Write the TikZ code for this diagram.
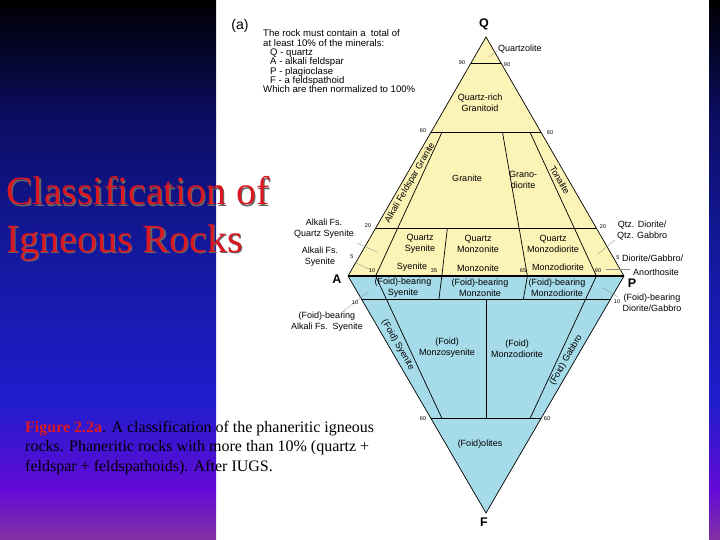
\documentclass[tikz,border=0pt]{standalone}
\usepackage{fontspec}
\setmainfont{Liberation Serif}
\newfontfamily\arial{Liberation Sans}
\usetikzlibrary{calc}
\definecolor{qapy}{RGB}{252,243,183}
\definecolor{qapb}{RGB}{166,219,233}
\definecolor{ttlred}{RGB}{218,24,34}
\definecolor{bgA}{RGB}{12,14,100}
\definecolor{bgB}{RGB}{20,25,160}
\definecolor{bgC}{RGB}{30,30,205}
\definecolor{bgD}{RGB}{100,10,215}
\definecolor{bgE}{RGB}{130,50,160}
\begin{document}
\begin{tikzpicture}[x=1pt,y=-1pt,
  lbl/.style={font=\arial\fontsize{9}{11}\selectfont,align=center,inner sep=0pt},
  num/.style={font=\arial\fontsize{5.5}{6}\selectfont,inner sep=0pt},
  corner/.style={font=\arial\bfseries\fontsize{12.5}{13}\selectfont,inner sep=0pt},
  lead/.style={black!45,line width=0.3pt},
  bnd/.style={line width=0.7pt},
  lvl/.style={line width=1.1pt},
  ttl/.style={font=\fontsize{40}{47}\selectfont,inner sep=0pt,anchor=base west},
  capline/.style={font=\fontsize{16}{19.5}\selectfont,inner sep=0pt,anchor=base west}]

\useasboundingbox (0,0) rectangle (720,540);
\fill[white] (0,0) rectangle (720,540);
\foreach \xa/\xb in {0/216,709/720}{
  \shade[top color=black,bottom color=bgA] (\xa,0) rectangle (\xb,120.5);
  \shade[top color=bgA,bottom color=bgB] (\xa,120) rectangle (\xb,260.5);
  \shade[top color=bgB,bottom color=bgC] (\xa,260) rectangle (\xb,400.5);
  \shade[top color=bgC,bottom color=bgD] (\xa,400) rectangle (\xb,490.5);
  \shade[top color=bgD,bottom color=bgE] (\xa,490) rectangle (\xb,540);
}

\coordinate (Q) at (486,37);
\coordinate (A) at (348,276);
\coordinate (P) at (624,276);
\coordinate (F) at (486,513);

\fill[qapy] (Q) -- (A) -- (P) -- cycle;
\fill[qapb] (A) -- (P) -- (F) -- cycle;

\coordinate (q90l) at ($(A)!0.89!(Q)$);
\coordinate (q90r) at ($(P)!0.89!(Q)$);
\coordinate (q60l) at ($(A)!0.6!(Q)$);
\coordinate (q60r) at ($(P)!0.6!(Q)$);
\coordinate (q20l) at ($(A)!0.2!(Q)$);
\coordinate (q20r) at ($(P)!0.2!(Q)$);
\coordinate (f10l) at ($(A)!0.1!(F)$);
\coordinate (f10r) at ($(P)!0.1!(F)$);
\coordinate (f60l) at ($(A)!0.6!(F)$);
\coordinate (f60r) at ($(P)!0.6!(F)$);
\coordinate (b10) at ($(A)!0.1!(P)$);
\coordinate (b35) at ($(A)!0.34!(P)$);
\coordinate (b65) at ($(A)!0.65!(P)$);
\coordinate (b90) at ($(A)!0.9!(P)$);

\draw[lvl] (q90l) -- (q90r);
\draw[lvl] (q60l) -- (q60r);
\draw[lvl] (q20l) -- (q20r);
\draw[lvl] (A) -- (P);
\draw[lvl] (f10l) -- (f10r);
\draw[lvl] (f60l) -- (f60r);

\draw[bnd] ($(q60l)!0.1!(q60r)$) -- (b10) -- ($(b10)!0.6!(F)$);
\draw[bnd] ($(q20l)!0.325!(q20r)$) -- (b35) -- ($(f10l)!0.31!(f10r)$);
\draw[bnd] ($(q60l)!0.65!(q60r)$) -- (b65) -- ($(f10l)!0.65!(f10r)$);
\draw[bnd] ($(q60l)!0.9!(q60r)$) -- (b90) -- ($(b90)!0.6!(F)$);
\draw[bnd] ($(f10l)!0.5!(f10r)$) -- ($(f60l)!0.5!(f60r)$);
\draw[bnd] (Q) -- (P) -- (F) -- (A) -- cycle;

% leaders
\draw[lead] (497,51) -- (489,57);
\draw[lead] (357,243) -- (377,252);
\draw[lead] (354,262) -- (371,270);
\draw[lead] (615,240) -- (598,254);
\draw[lead] (606,269) -- (630,269);
\draw[lead] (603,288) -- (618,297);
\draw[lead] (341,313) -- (368,292);

% corners and levels
\node[corner] (cq) at (484,24) {Q};
\node[corner] (ca) at (337,279) {A};
\node[corner] (cp) at (632,283) {P};
\node[corner] (cf) at (484,522) {F};
\node[num] (n90l) at (462,63) {90};
\node[num] (n90r) at (507,65) {90};
\node[num] (n60l) at (423,131) {60};
\node[num] (n60r) at (550,133) {60};
\node[num] (n20l) at (368,226) {20};
\node[num] (n20r) at (603,227) {20};
\node[num] (n5l) at (352,257) {5};
\node[num] (n5r) at (618,258) {5};
\node[num] (n10a) at (372,271) {10};
\node[num] (n35) at (434,271) {35};
\node[num] (n65) at (523,271) {65};
\node[num] (n90b) at (598,271) {90};
\node[num] (n10l) at (355,303) {10};
\node[num] (n10r) at (617,302) {10};
\node[num] (n60fl) at (423,419) {60};
\node[num] (n60fr) at (547,419) {60};

% fields
\node[lbl,anchor=west] (qzl) at (498,49) {Quartzolite};
\node[lbl] (qrg) at (480,103) {Quartz-rich\\Granitoid};
\node[lbl,rotate=60] (afg) at (410,183) {Alkali Feldspar Granite};
\node[lbl] (gra) at (467,178) {Granite};
\node[lbl] (gdi) at (523,180) {Grano-\\diorite};
\node[lbl,rotate=-60] (ton) at (560,180) {Tonalite};
\node[lbl] (qsy) at (420,244) {Quartz\\Syenite};
\node[lbl] (qmz) at (478,244) {Quartz\\Monzonite};
\node[lbl] (qmd) at (553,244) {Quartz\\Monzodiorite};
\node[lbl] (sye) at (412,267) {Syenite};
\node[lbl] (mzn) at (478,268) {Monzonite};
\node[lbl] (mzd) at (558,267) {Monzodiorite};
\node[lbl] (afqs) at (324,229) {Alkali Fs.\\Quartz Syenite};
\node[lbl] (afs) at (320,257) {Alkali Fs.\\Syenite};
\node[lbl,anchor=west] (qdg) at (617,231) {Qtz. Diorite/\\Qtz. Gabbro};
\node[lbl,anchor=west] (dga) at (622,258) {Diorite/Gabbro/};
\node[lbl] (ano) at (656,272) {Anorthosite};
\node[lbl] (fbs) at (403,288) {(Foid)-bearing\\Syenite};
\node[lbl] (fbm) at (480,288) {(Foid)-bearing\\Monzonite};
\node[lbl] (fbd) at (557,288) {(Foid)-bearing\\Monzodiorite};
\node[lbl] (fbdg) at (652,303) {(Foid)-bearing\\Diorite/Gabbro};
\node[lbl] (fbas) at (327,322) {(Foid)-bearing\\Alkali Fs.\ \ Syenite};
\node[lbl,rotate=-60] (fsy) at (398,345) {(Foid) Syenite};
\node[lbl] (fms) at (447,348) {(Foid)\\Monzosyenite};
\node[lbl] (fmd) at (517,349) {(Foid)\\Monzodiorite};
\node[lbl,rotate=60] (fgb) at (566,360) {(Foid) Gabbro};
\node[lbl] (fol) at (480,444) {(Foid)olites};

% heading block
\node[font=\arial\fontsize{14}{14}\selectfont,inner sep=0pt] (tag) at (240,26) {(a)};
\node[font=\arial\fontsize{9.6}{9.35}\selectfont,align=left,inner sep=0pt,anchor=north west] (rule) at (263,29.5)
  {The rock must contain a\ \ total of\\
   at least 10\% of the minerals:\\
   \hspace*{7pt}Q - quartz\\
   \hspace*{7pt}A - alkali feldspar\\
   \hspace*{7pt}P - plagioclase\\
   \hspace*{7pt}F - a feldspathoid\\
   Which are then normalized to 100\%};

% title and caption
\node[ttl,black!60] at (7.2,206.2) {Classification of};
\node[ttl,black!60] at (7.2,253.2) {Igneous Rocks};
\node[ttl,ttlred] (ttl1) at (6,205) {Classification of};
\node[ttl,ttlred] (ttl2) at (6,252) {Igneous Rocks};
\node[capline] (cap1) at (25,432) {\textcolor{ttlred}{\bfseries Figure 2.2a}. A classification of the phaneritic igneous};
\node[capline] (cap2) at (25,451.5) {rocks. Phaneritic rocks with more than 10\% (quartz +};
\node[capline] (cap3) at (25,471) {feldspar + feldspathoids). After IUGS.};

\end{tikzpicture}
\end{document}
